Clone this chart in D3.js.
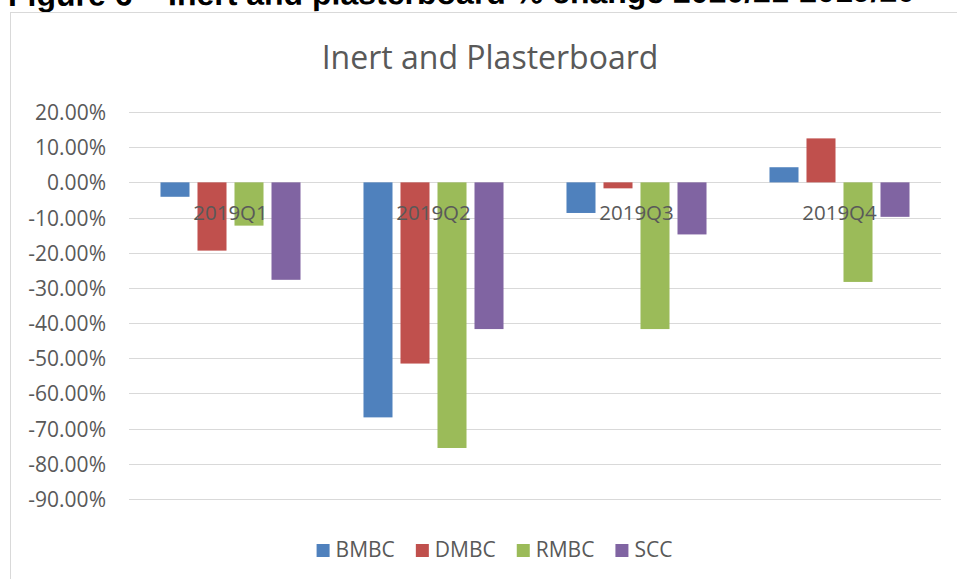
<!DOCTYPE html>
<html>
<head>
<meta charset="utf-8">
<script src="https://cdn.jsdelivr.net/npm/d3@7"></script>
<style>
  body { margin: 0; background: #fff; }
  svg { display: block; }
</style>
</head>
<body>
<svg id="chart" width="957" height="579"></svg>
<script>
// data
var quarters = ["2019Q1", "2019Q2", "2019Q3", "2019Q4"];
var seriesNames = ["BMBC", "DMBC", "RMBC", "SCC"];
var colors = ["#4F81BD", "#C0504D", "#9BBB59", "#8064A2"];
var bmbc = [-0.041, -0.668, -0.087, 0.043];
var dmbc = [-0.194, -0.515, -0.017, 0.125];
var rmbc = [-0.123, -0.755, -0.417, -0.283];
var scc  = [-0.277, -0.417, -0.148, -0.098];
var yTicks = [0.2, 0.1, 0, -0.1, -0.2, -0.3, -0.4, -0.5, -0.6, -0.7, -0.8, -0.9];

var values = [bmbc, dmbc, rmbc, scc];
var textColor = "#595959";
var font = "'Open Sans', sans-serif";

var svg = d3.select("#chart");

// caption of the figure, cut off at the top of the picture
svg.append("text")
    .attr("x", 8)
    .attr("y", 6)
    .attr("transform", "rotate(-0.28,8,6)")
    .attr("font-family", "'Liberation Sans', Arial, sans-serif")
    .attr("font-weight", "bold")
    .attr("font-size", 32)
    .attr("fill", "#000")
    .text("Figure 6 \u2013 Inert and plasterboard % change 2020/21-2019/20");

// chart frame
svg.append("rect")
    .attr("x", 10.5).attr("y", 12.5)
    .attr("width", 970).attr("height", 600)
    .attr("fill", "#fff")
    .attr("stroke", "#d9d9d9")
    .attr("stroke-width", 1);

svg.append("text")
    .attr("x", 490)
    .attr("y", 69)
    .attr("text-anchor", "middle")
    .attr("font-family", font)
    .attr("font-size", 32)
    .attr("fill", textColor)
    .text("Inert and Plasterboard");

var y = d3.scaleLinear().domain([-0.9, 0.2]).range([499, 112]);
var x0 = d3.scaleBand().domain(quarters).range([129, 941]);
var x1 = d3.scaleBand().domain(seriesNames)
    .range([0, x0.bandwidth()])
    .paddingInner(0.216)
    .paddingOuter(0.851);

// gridlines
svg.append("g").selectAll("line")
    .data(yTicks)
    .enter()
    .append("line")
    .attr("x1", 129).attr("x2", 941)
    .attr("y1", function(d){ return Math.round(y(d)) + 0.5; })
    .attr("y2", function(d){ return Math.round(y(d)) + 0.5; })
    .attr("stroke", "#d9d9d9")
    .attr("stroke-width", 1);

// y axis labels
var fmt = d3.format(".2%");
svg.append("g").selectAll("text")
    .data(yTicks)
    .enter()
    .append("text")
    .attr("x", 106)
    .attr("y", function(d){ return y(d) + 8; })
    .attr("text-anchor", "end")
    .attr("font-family", font)
    .attr("font-size", 21)
    .attr("fill", textColor)
    .text(function(d){ return fmt(d).replace("−", "-"); });

// bars
var groups = svg.append("g").selectAll("g")
    .data(quarters)
    .enter()
    .append("g")
    .attr("transform", function(d){ return "translate(" + x0(d) + ",0)"; });

groups.selectAll("rect")
    .data(function(q, qi){
        return seriesNames.map(function(s, si){ return {s: s, si: si, v: values[si][qi]}; });
    })
    .enter()
    .append("rect")
    .attr("x", function(d){ return x1(d.s); })
    .attr("width", x1.bandwidth())
    .attr("y", function(d){ return y(Math.max(0, d.v)); })
    .attr("height", function(d){ return Math.abs(y(d.v) - y(0)); })
    .attr("fill", function(d){ return colors[d.si]; });

// category labels sit next to the zero line
svg.append("g").selectAll("text")
    .data(quarters)
    .enter()
    .append("text")
    .attr("x", function(d){ return x0(d) + x0.bandwidth() / 2; })
    .attr("y", y(0) + 38)
    .attr("text-anchor", "middle")
    .attr("font-family", font)
    .attr("font-size", 20.5)
    .attr("fill", textColor)
    .text(function(d){ return d; });

// legend
var legend = svg.append("g");
var items = legend.selectAll("g")
    .data(seriesNames)
    .enter()
    .append("g");
items.append("rect")
    .attr("y", 544)
    .attr("width", 13).attr("height", 13)
    .attr("fill", function(d, i){ return colors[i]; });
items.append("text")
    .attr("x", 19)
    .attr("y", 557)
    .attr("font-family", font)
    .attr("font-size", 21)
    .attr("fill", textColor)
    .text(function(d){ return d; });

var pos = 0;
items.each(function(){
    var w = d3.select(this).select("text").node().getComputedTextLength();
    d3.select(this).attr("data-x", pos);
    pos += 19 + w + 21;
});
var total = pos - 21;
var start = 494.5 - total / 2;
items.attr("transform", function(){
    return "translate(" + (start + +d3.select(this).attr("data-x")) + ",0)";
});
</script>
</body>
</html>
